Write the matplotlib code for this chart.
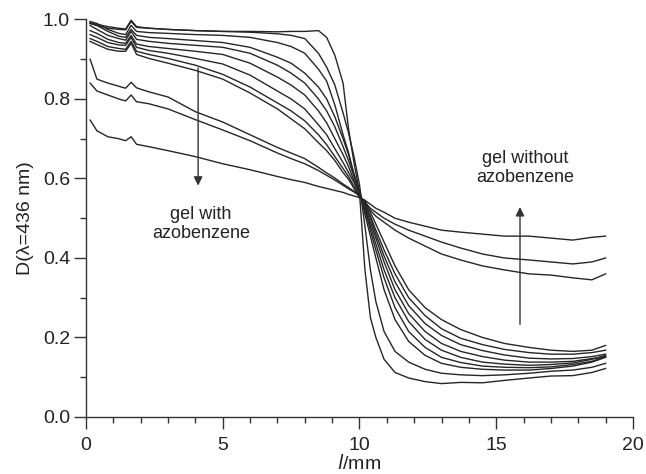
import matplotlib
matplotlib.use('Agg')
import matplotlib.pyplot as plt
from matplotlib.ticker import MultipleLocator, FormatStrFormatter

plt.rcParams['font.family'] = ['Liberation Sans', 'DejaVu Sans']

# position along the gel, mm
pos = [0.15, 0.4, 0.8, 1.2, 1.45, 1.65, 1.85, 2.3, 3, 4, 5, 6, 7, 7.5, 8, 8.5, 8.8,
       9.1, 9.4, 9.6, 9.8, 10.0, 10.2, 10.4, 10.6, 10.9, 11.3, 11.8, 12.4, 13, 13.7,
       14.5, 15.3, 16.2, 17, 17.8, 18.5, 19]

# optical density profiles, gel with azobenzene (steep -> gradual)
s1 = [0.992, 0.985, 0.978, 0.975, 0.974, 0.995, 0.980, 0.978, 0.975, 0.972, 0.970, 0.970,
      0.969, 0.970, 0.970, 0.972, 0.955, 0.910, 0.840, 0.725, 0.640, 0.565,
      0.370, 0.250, 0.200, 0.145, 0.112, 0.098, 0.089, 0.084, 0.087, 0.086, 0.092, 0.098,
      0.103, 0.104, 0.112, 0.122]
s2 = [0.990, 0.988, 0.982, 0.978, 0.976, 0.998, 0.982, 0.978, 0.975, 0.972, 0.970, 0.968,
      0.964, 0.960, 0.952, 0.915, 0.880, 0.835, 0.765, 0.715, 0.655, 0.585,
      0.480, 0.370, 0.290, 0.215, 0.165, 0.138, 0.120, 0.110, 0.106, 0.104, 0.106, 0.110,
      0.115, 0.118, 0.125, 0.135]
s3 = [0.995, 0.990, 0.975, 0.965, 0.962, 0.985, 0.970, 0.967, 0.965, 0.962, 0.960, 0.955,
      0.942, 0.932, 0.915, 0.875, 0.845, 0.785, 0.710, 0.665, 0.610, 0.565,
      0.510, 0.455, 0.400, 0.320, 0.245, 0.190, 0.155, 0.135, 0.125, 0.120, 0.118, 0.118,
      0.122, 0.128, 0.138, 0.150]
s4 = [0.990, 0.985, 0.970, 0.958, 0.955, 0.975, 0.960, 0.955, 0.952, 0.947, 0.942, 0.930,
      0.905, 0.890, 0.865, 0.830, 0.800, 0.755, 0.700, 0.660, 0.610, 0.570,
      0.520, 0.470, 0.420, 0.350, 0.275, 0.215, 0.175, 0.150, 0.137, 0.128, 0.125, 0.124,
      0.126, 0.132, 0.140, 0.152]
s5 = [0.985, 0.975, 0.960, 0.952, 0.948, 0.970, 0.950, 0.945, 0.940, 0.935, 0.930, 0.915,
      0.885, 0.865, 0.840, 0.800, 0.770, 0.730, 0.680, 0.645, 0.605, 0.565,
      0.525, 0.480, 0.435, 0.370, 0.300, 0.240, 0.195, 0.168, 0.150, 0.138, 0.133, 0.130,
      0.132, 0.136, 0.145, 0.155]
s6 = [0.972, 0.965, 0.950, 0.942, 0.940, 0.960, 0.938, 0.932, 0.927, 0.920, 0.912, 0.890,
      0.855, 0.835, 0.810, 0.770, 0.740, 0.700, 0.660, 0.630, 0.595, 0.560,
      0.530, 0.490, 0.450, 0.390, 0.320, 0.260, 0.215, 0.185, 0.165, 0.152, 0.143, 0.138,
      0.138, 0.140, 0.147, 0.152]
s7 = [0.962, 0.955, 0.942, 0.936, 0.935, 0.955, 0.930, 0.922, 0.915, 0.902, 0.888, 0.860,
      0.820, 0.800, 0.775, 0.735, 0.710, 0.675, 0.640, 0.615, 0.590, 0.560,
      0.535, 0.500, 0.460, 0.405, 0.340, 0.280, 0.235, 0.205, 0.182, 0.167, 0.156, 0.148,
      0.146, 0.147, 0.152, 0.158]
s8 = [0.952, 0.945, 0.932, 0.927, 0.925, 0.945, 0.920, 0.912, 0.902, 0.885, 0.862, 0.830,
      0.790, 0.770, 0.745, 0.710, 0.685, 0.655, 0.625, 0.605, 0.580, 0.555,
      0.540, 0.505, 0.470, 0.420, 0.360, 0.300, 0.255, 0.222, 0.198, 0.182, 0.170, 0.162,
      0.158, 0.158, 0.162, 0.168]
s9 = [0.945, 0.937, 0.925, 0.920, 0.920, 0.940, 0.912, 0.902, 0.890, 0.872, 0.850, 0.815,
      0.775, 0.750, 0.725, 0.690, 0.670, 0.645, 0.615, 0.598, 0.575, 0.552,
      0.545, 0.515, 0.485, 0.440, 0.380, 0.320, 0.275, 0.245, 0.220, 0.200, 0.185, 0.175,
      0.168, 0.165, 0.168, 0.180]
# flat profiles (gel without azobenzene)
f1 = [0.900, 0.850, 0.840, 0.832, 0.827, 0.842, 0.828, 0.818, 0.805, 0.768, 0.742, 0.710,
      0.678, 0.664, 0.650, 0.628, 0.614, 0.601, 0.586, 0.577, 0.568, 0.558,
      0.535, 0.520, 0.505, 0.490, 0.470, 0.450, 0.430, 0.410, 0.395, 0.380, 0.370, 0.360,
      0.357, 0.350, 0.345, 0.360]
f2 = [0.840, 0.820, 0.810, 0.800, 0.795, 0.810, 0.793, 0.788, 0.775, 0.748, 0.722, 0.695,
      0.664, 0.650, 0.637, 0.620, 0.608, 0.596, 0.583, 0.574, 0.566, 0.557,
      0.540, 0.525, 0.515, 0.500, 0.485, 0.470, 0.455, 0.440, 0.425, 0.410, 0.400, 0.395,
      0.390, 0.385, 0.390, 0.400]
f3 = [0.747, 0.720, 0.705, 0.700, 0.695, 0.705, 0.686, 0.680, 0.670, 0.655, 0.637, 0.622,
      0.605, 0.597, 0.590, 0.580, 0.575, 0.570, 0.565, 0.560, 0.556, 0.552,
      0.545, 0.535, 0.525, 0.515, 0.500, 0.490, 0.480, 0.470, 0.465, 0.460, 0.455, 0.455,
      0.450, 0.445, 0.452, 0.455]

profiles = [s1, s2, s3, s4, s5, s6, s7, s8, s9, f1, f2, f3]

fig = plt.figure(figsize=(6.46, 4.74), dpi=100)
ax = fig.add_axes([0.1331, 0.1203, 0.8467, 0.8386])

for d in profiles:
    ax.plot(pos, d, color='#262626', lw=1.0)

ax.set_xlim(0, 20)
ax.set_ylim(0, 1.0)
ax.xaxis.set_major_locator(MultipleLocator(5))
ax.xaxis.set_minor_locator(MultipleLocator(1))
ax.yaxis.set_major_locator(MultipleLocator(0.2))
ax.yaxis.set_minor_locator(MultipleLocator(0.1))
ax.yaxis.set_major_formatter(FormatStrFormatter('%.1f'))
ax.spines['top'].set_visible(False)
ax.spines['right'].set_visible(False)
for sp in ('left', 'bottom'):
    ax.spines[sp].set_linewidth(1.0)
    ax.spines[sp].set_color('#333333')
ax.tick_params(which='major', direction='out', length=8.5, width=1.0, color='#333333',
               labelsize=14, labelcolor='#222222')
ax.tick_params(which='minor', direction='out', length=4.3, width=1.0, color='#333333')
ax.tick_params(axis='x', which='major', pad=6)
ax.tick_params(axis='y', which='major', pad=3)

ax.set_ylabel('D(λ=436 nm)', fontsize=14, color='#222222', labelpad=6)
ax.set_xlabel('$\\mathit{l}$/mm', fontsize=14, color='#222222', labelpad=0)

ax.annotate('', xy=(4.1, 0.575), xytext=(4.1, 0.885),
            arrowprops=dict(arrowstyle='-|>', color='#333333', lw=1.0, mutation_scale=13))
ax.text(4.2, 0.485, 'gel with\nazobenzene', ha='center', va='center', fontsize=13,
        color='#222222', linespacing=1.15)

ax.annotate('', xy=(15.87, 0.535), xytext=(15.87, 0.226),
            arrowprops=dict(arrowstyle='-|>', color='#333333', lw=1.0, mutation_scale=13))
ax.text(16.05, 0.627, 'gel without\nazobenzene', ha='center', va='center', fontsize=13,
        color='#222222', linespacing=1.15)

fig.savefig('out.png', dpi=100)
